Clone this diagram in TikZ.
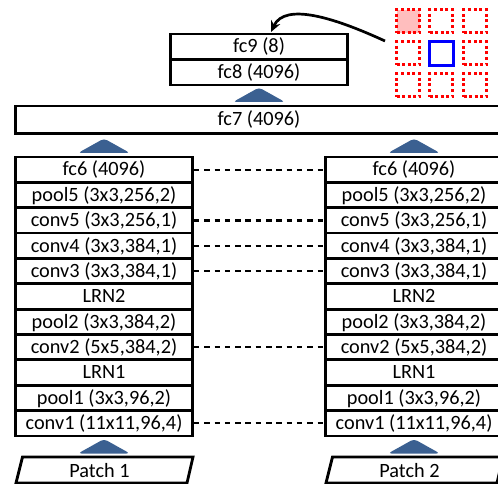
\documentclass[tikz,border=0pt]{standalone}
\usepackage{fontspec}
\setmainfont{Carlito}
\usetikzlibrary{arrows.meta,calc}
\definecolor{trblue}{RGB}{59,96,145}
\definecolor{gridred}{RGB}{255,0,0}
\definecolor{gridpink}{RGB}{255,190,190}
\newcommand{\layfont}{\fontsize{20.3}{22}\selectfont}
\tikzset{
  layer/.style={draw, line width=2.8pt, minimum width=177pt, minimum height=25.36pt,
    inner sep=0pt, text height=16.5pt, text depth=4pt, font=\layfont, fill=white},
  tri/.style={fill=trblue, rounded corners=3.5pt},
  link/.style={line width=2.3pt, dash pattern=on 5.5pt off 4.8pt},
  gsq/.style={draw=gridred, line width=3pt, dash pattern=on 3pt off 2.6pt, minimum size=23pt, inner sep=0pt},
  patchshape/.style={line width=2.8pt, line join=miter},
}
\begin{document}
\begin{tikzpicture}[x=1pt,y=-1pt]
\useasboundingbox (0,0) rectangle (498,484);
% stacks
\foreach \t [count=\i from 0] in {fc6 (4096),{pool5 (3x3,256,2)},{conv5 (3x3,256,1)},{conv4 (3x3,384,1)},{conv3 (3x3,384,1)},LRN2,{pool2 (3x3,384,2)},{conv2 (5x5,384,2)},LRN1,{pool1 (3x3,96,2)},{conv1 (11x11,96,4)}}{
  \node[layer] (L\i) at (104,{157+25.36*(\i+0.5)}) {\t};
  \node[layer] (R\i) at (414,{157+25.36*(\i+0.5)}) {\t};
}
\foreach \i in {0,2,3,4,7,10}{
  \draw[link] (L\i.east) -- (R\i.west);
}
% fc7
\node[layer, minimum width=487pt, minimum height=27.5pt] (fc7) at (259,119.75) {fc7 (4096)};
% fc9 / fc8
\node[layer, minimum height=25.5pt] (fc9) at (259,46.75) {fc9 (8)};
\node[layer, minimum height=25.5pt] (fc8) at (259,72.25) {fc8 (4096)};
% triangles
\foreach \cx/\cy in {259/95, 104/146, 414/146, 104/446.5, 414/446.5}{
  \fill[tri] (\cx-26,\cy+7) -- (\cx,\cy-7.5) -- (\cx+26,\cy+7) -- cycle;
}
% patches
\draw[patchshape, fill=white] (22.5,457) -- (193,457) -- (187,483) -- (16,483) -- cycle;
\node[font=\layfont, inner sep=0pt] (p1) at (99.5,471) {Patch 1};
\draw[patchshape, fill=white] (332.5,457) -- (503,457) -- (497,483) -- (326,483) -- cycle;
\node[font=\layfont, inner sep=0pt] (p2) at (409.5,471) {Patch 2};
% grid
\node[gsq, fill=gridpink] (g00) at (408,21.5) {};
\node[gsq] (g01) at (441,21.5) {};
\node[gsq] (g02) at (475,21.5) {};
\node[gsq] (g10) at (408,53.5) {};
\node[draw=blue, line width=3pt, minimum size=24pt, inner sep=0pt] (g11) at (441,53.5) {};
\node[gsq] (g12) at (475,53.5) {};
\node[gsq] (g20) at (408,85.5) {};
\node[gsq] (g21) at (441,85.5) {};
\node[gsq] (g22) at (475,85.5) {};
% curved arrow
\coordinate (astart) at (385,41);
\coordinate (aend) at (271,32);
\draw[line width=2.7pt, -{Stealth[length=11pt,width=10pt]}] (astart) .. controls (335,18) and (285,2) .. (aend);
\end{tikzpicture}
\end{document}
